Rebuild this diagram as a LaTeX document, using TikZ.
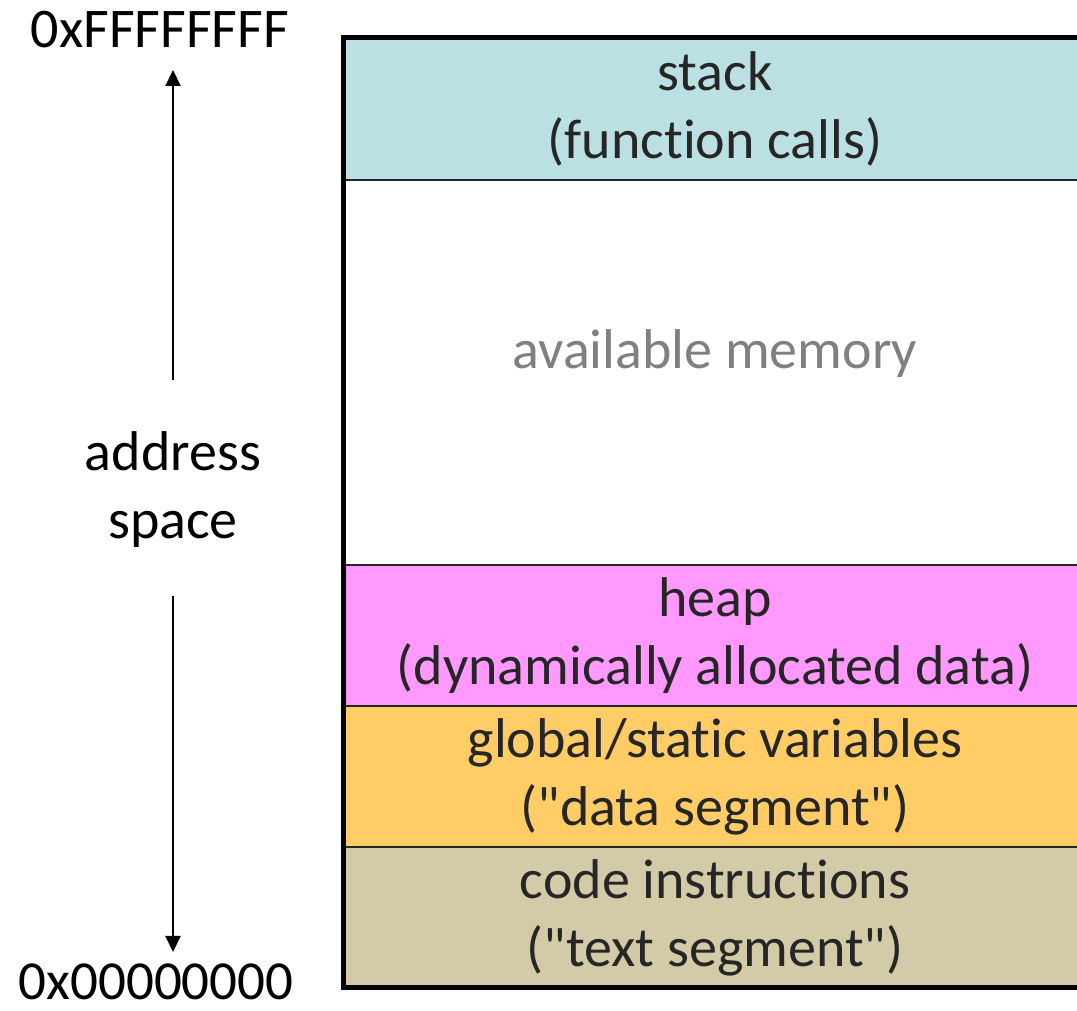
\documentclass[tikz,border=0pt]{standalone}
\usepackage{fontspec}
\setmainfont{Carlito}[Ligatures=NoCommon]
\usetikzlibrary{arrows.meta,positioning}

\definecolor{stackcol}{HTML}{BBE0E3}
\definecolor{heapcol}{HTML}{FF99FF}
\definecolor{datacol}{HTML}{FFCC66}
\definecolor{codecol}{HTML}{D3CAA8}
\definecolor{txt}{HTML}{262626}
\definecolor{freetxt}{HTML}{808080}

\tikzset{
  seg/.style={draw=txt, line width=2pt, minimum width=744pt, inner sep=0pt,
    outer sep=0pt, text=txt, align=center, font=\fontsize{56}{68}\selectfont},
  lbl/.style={inner sep=0pt, align=center, font=\fontsize{56}{68}\selectfont},
  addrarrow/.style={line width=2pt, -{Triangle[width=15pt,length=16pt]}}
}

\begin{document}
\begin{tikzpicture}[x=1pt,y=1pt]
    \clip (0,0) rectangle (1077,1011);
    \fill[white] (0,0) rectangle (1077,1011);

    % memory segments
    \node[seg, fill=stackcol, minimum height=142pt, anchor=north west] (stack) at (343,973) {stack\\(function calls)};
    \node[seg, fill=white, minimum height=385pt, below=0pt of stack] (free) {};
    \node[lbl, text=freetxt] (freelbl) at ([yshift=19pt]free.center) {available memory};
    \node[seg, fill=heapcol, minimum height=141pt, below=0pt of free] (heap) {heap\\(dynamically allocated data)};
    \node[seg, fill=datacol, minimum height=141pt, below=0pt of heap] (data) {global/static variables\\(\textquotedbl data segment\textquotedbl)};
    \node[seg, fill=codecol, minimum height=141pt, below=0pt of data] (code) {code instructions\\(\textquotedbl text segment\textquotedbl)};

    % outer frame
    \draw[line width=5pt] (code.south east) -- (code.south west) -- (stack.north west) -- (stack.north east);

    % address labels
    \node[lbl] (hi) at (160,981) {0xFFFFFFFF};
    \node[lbl, font=\fontsize{55}{68}\selectfont] (lo) at (156,29) {0x00000000};
    \node[lbl] (addr) at (173,521) {address\\space};

    \coordinate (upstart) at (173,631);
    \coordinate (upend) at (173,941);
    \coordinate (downstart) at (173,415);
    \coordinate (downend) at (173,59);

    \draw[addrarrow] (upstart) -- (upend);
    \draw[addrarrow] (downstart) -- (downend);
\end{tikzpicture}
\end{document}
